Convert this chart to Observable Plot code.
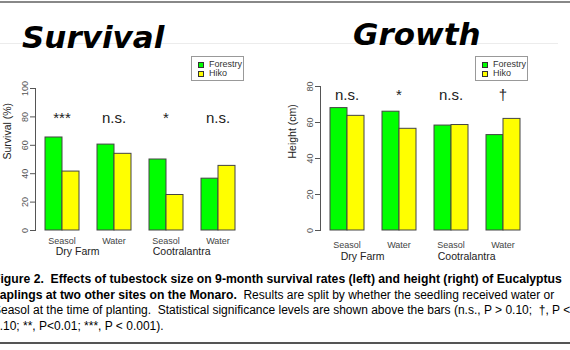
<!DOCTYPE html>
<html>
<head>
<meta charset="utf-8">
<script src="https://cdn.jsdelivr.net/npm/d3@7"></script>
<script src="https://cdn.jsdelivr.net/npm/@observablehq/plot@0.6"></script>
<style>
  html, body { margin: 0; padding: 0; background: #fff; }
  #page { position: relative; width: 570px; height: 350px; overflow: hidden; background: #fff; font-family: "Liberation Sans", Arial, sans-serif; }
  .abs { position: absolute; }
  .title { font-family: "DejaVu Sans", sans-serif; font-weight: bold; font-style: italic; font-size: 31px; line-height: 31px; color: #000; white-space: nowrap; }
  .legend { border: 1px solid #999; background: #fff; font-size: 9px; line-height: 9px; color: #333; padding: 3px 0 3px 6px; box-sizing: border-box; white-space: nowrap; overflow: visible; }
  .legend .item { display: flex; align-items: center; height: 9px; }
  .legend .sw { flex: 0 0 auto; width: 4px; height: 4px; border: 1px solid #333; margin-right: 5px; }
  .caption { font-size: 12px; line-height: 15.6px; color: #000; white-space: pre; }
  .caption b { font-size: 12.2px; }
</style>
</head>
<body>
<div id="page"></div>
<script>
// ---- data ----
const sites = ["Dry Farm", "Cootralantra"];
const treatments = ["Seasol", "Water", "Seasol", "Water"];
const stocks = ["Forestry", "Hiko"];
const stockColors = ["#00ff00", "#ffff00"];

const survivalForestry = [65.5, 60.5, 50, 36.5];
const survivalHiko = [41.5, 54, 25, 45.5];
const survivalSig = ["***", "n.s.", "*", "n.s."];
const survivalTicks = [0, 20, 40, 60, 80, 100];

const heightForestry = [68, 66, 58.3, 53];
const heightHiko = [63.7, 56.5, 58.6, 62];
const heightSig = ["n.s.", "*", "n.s.", "\u2020"];
const heightTicks = [0, 20, 40, 60, 80];

const captionBold1 = "Figure 2.  Effects of tubestock size on 9-month survival rates (left) and height (right) of Eucalyptus";
const captionBold2 = "saplings at two other sites on the Monaro.";
const captionRest2 = "  Results are split by whether the seedling received water or";
const captionLine3 = "Seasol at the time of planting.  Statistical significance levels are shown above the bars (n.s., P > 0.10;  \u2020, P <";
const captionLine4 = "0.10; **, P<0.01; ***, P < 0.001).";

const page = document.getElementById("page");

const W = 285, ML = 42, MR = 49, PAD_IN = 1 / 3;

function chart({forestry, hiko, sig, yMax, ticks, yLabel, marginTop, sigDy, xLabPad, sitePad}) {
  const rows = [];
  forestry.forEach((v, i) => rows.push({g: i, stock: stocks[0], v}));
  hiko.forEach((v, i) => rows.push({g: i, stock: stocks[1], v}));
  // half a facet band: site names sit at the right edge of the first group of each site
  const band = (W - ML - MR) / (treatments.length - PAD_IN) * (1 - PAD_IN);
  return Plot.plot({
    width: W, height: 270,
    marginLeft: ML, marginRight: MR, marginTop, marginBottom: 40,
    fx: {domain: d3.range(treatments.length), paddingInner: PAD_IN, paddingOuter: 0, axis: null},
    x: {domain: stocks, padding: 0, axis: null},
    y: {domain: [0, yMax], axis: null},
    color: {domain: stocks, range: stockColors},
    style: {fontFamily: "'Liberation Sans', Arial, sans-serif", background: "transparent", overflow: "visible"},
    marks: [
      Plot.barY(rows, {fx: "g", x: "stock", y: "v", fill: "stock", stroke: "#444", strokeWidth: 1}),
      Plot.axisY({ticks, tickSize: 5, dx: -9, tickRotate: -90, fontSize: 9, color: "#555", label: null, tickPadding: 3}),
      Plot.frame({anchor: "left", facet: "super", dx: -9, stroke: "#555"}),
      Plot.axisFx({anchor: "bottom", tickSize: 0, tickPadding: xLabPad, fontSize: 9, tickFormat: i => treatments[i], label: null, color: "#444"}),
      Plot.axisFx({anchor: "bottom", tickSize: 0, tickPadding: sitePad, fontSize: 10.5, dx: band / 2 - 2,
        tickFormat: i => (i % 2 === 0 ? sites[i / 2] : ""), label: null, color: "#222"}),
      Plot.text(sig, {fx: (d, i) => i, text: d => d, frameAnchor: "top", lineAnchor: "middle", dy: sigDy, fontSize: 15, fill: "#222"}),
      Plot.text([yLabel], {facet: "super", text: d => d, frameAnchor: "left", rotate: -90, dx: -37, fontSize: 10.5, fill: "#222"})
    ]
  });
}

function place(el, left, top) {
  el.classList.add("abs");
  el.style.left = left + "px";
  el.style.top = top + "px";
  page.appendChild(el);
  return el;
}

// decorations
function line(left, top, width, height, color) {
  const d = document.createElement("div");
  d.style.width = width + "px"; d.style.height = height + "px"; d.style.background = color;
  place(d, left, top);
}
line(0, 1, 570, 1.5, "#888");
line(0, 43, 558, 1, "#ececec");
line(0, 342, 570, 2, "#555");

function title(text, left, top) {
  const d = document.createElement("div");
  d.className = "title"; d.textContent = text;
  place(d, left, top);
}
title("Survival", 22, 22);
title("Growth", 353, 19);

const left = chart({forestry: survivalForestry, hiko: survivalHiko, sig: survivalSig, yMax: 100, ticks: survivalTicks,
  yLabel: "Survival (%)", marginTop: 88, sigDy: 30, xLabPad: 7, sitePad: 17});
place(left, 0, 0);
const right = chart({forestry: heightForestry, hiko: heightHiko, sig: heightSig, yMax: 80, ticks: heightTicks,
  yLabel: "Height (cm)", marginTop: 86, sigDy: 9, xLabPad: 11, sitePad: 22});
place(right, 285, 0);

function legend(left, top) {
  const d = document.createElement("div");
  d.className = "legend";
  d.style.width = "53px"; d.style.height = "25px";
  stocks.forEach((s, i) => {
    const it = document.createElement("div"); it.className = "item";
    const sw = document.createElement("div"); sw.className = "sw"; sw.style.background = stockColors[i];
    const tx = document.createElement("span"); tx.textContent = s;
    it.appendChild(sw); it.appendChild(tx); d.appendChild(it);
  });
  place(d, left, top);
}
legend(191, 56);
legend(475, 56);

const cap = document.createElement("div");
cap.className = "caption";
const b1 = document.createElement("b"); b1.textContent = captionBold1 + "\n";
const b2 = document.createElement("b"); b2.textContent = captionBold2;
cap.appendChild(b1); cap.appendChild(b2);
cap.appendChild(document.createTextNode(captionRest2 + "\n" + captionLine3 + "\n" + captionLine4));
place(cap, -7, 272);
</script>
</body>
</html>
